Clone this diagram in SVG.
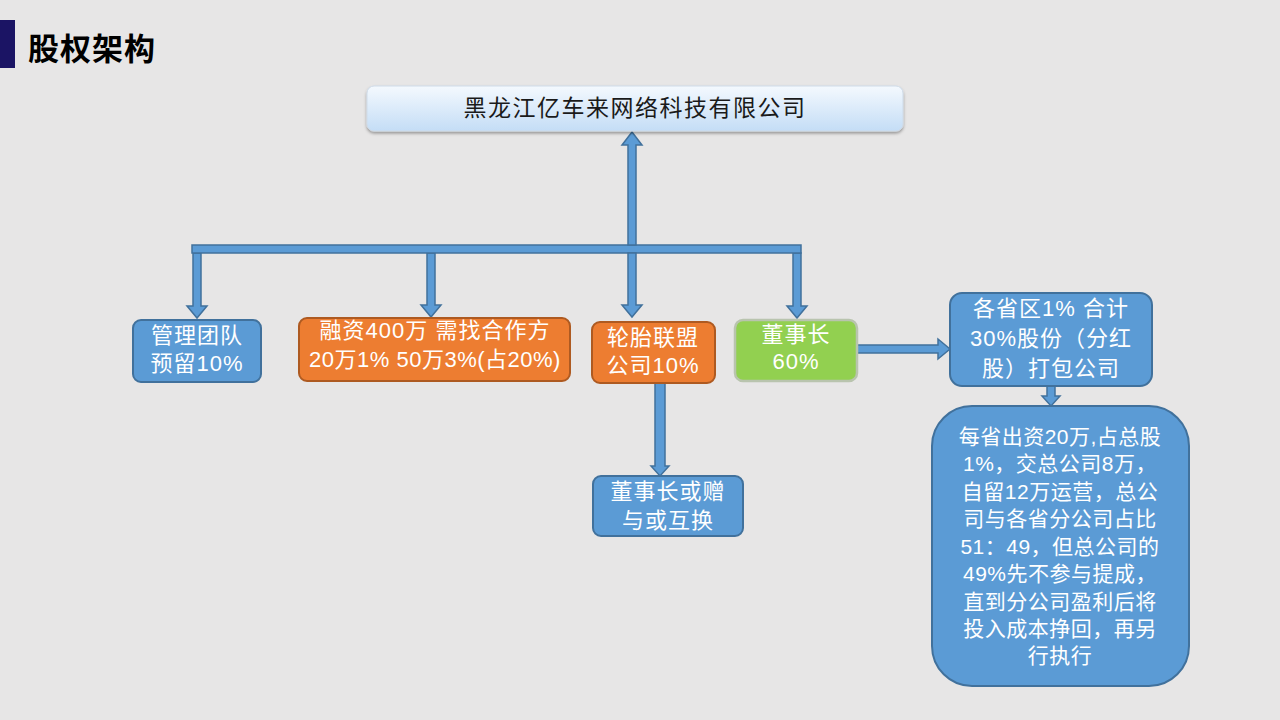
<svg xmlns="http://www.w3.org/2000/svg" width="1280" height="720" viewBox="0 0 1280 720">
<defs>
<linearGradient id="topg" x1="0" y1="0" x2="0" y2="1">
<stop offset="0" stop-color="#f4f9fe"/>
<stop offset="1" stop-color="#c4ddf6"/>
</linearGradient>
<filter id="sh" x="-5%" y="-20%" width="110%" height="150%">
<feDropShadow dx="0" dy="2" stdDeviation="1.5" flood-color="#000" flood-opacity="0.35"/>
</filter>
<style>
.t{font-family:"Liberation Sans","Noto Sans CJK SC",sans-serif;font-size:22px;fill:#ffffff;text-anchor:middle;letter-spacing:1px}
.b{font-size:21px;letter-spacing:0.5px}
.blue{fill:#5b9bd5;stroke:#41719c;stroke-width:2}
.orange{fill:#ed7d31;stroke:#ae5a21;stroke-width:2}
.green{fill:#92d050;stroke:#b9c4ae;stroke-width:2.5}
.arr{fill:#5b9bd5;stroke:#41719c;stroke-width:1.5;stroke-linejoin:miter}
</style>
</defs>
<rect width="1280" height="720" fill="#e7e6e6"/>
<g id="title">
<rect x="0" y="20" width="15" height="48" fill="#1b1464"/>
<text x="28" y="60" font-family="'Noto Sans CJK SC',sans-serif" font-size="31" font-weight="bold" fill="#000" letter-spacing="1">股权架构</text>
</g>
<g id="connectors">
<path class="arr" d="M193 253 V306 H187 L197 318 L207 306 H201 V253 Z"/>
<path class="arr" d="M427 253 V305 H421 L431 317 L441 305 H435 V253 Z"/>
<path class="arr" d="M793 253 V306 H787 L797 318 L807 306 H801 V253 Z"/>
<rect class="arr" x="192" y="245" width="609" height="8"/>
<path class="arr" d="M628 253 V305 H622 L632 317 L642 305 H636 V253 Z"/>
<path class="arr" d="M628 245 V145 H622 L632 132 L642 145 H636 V245 Z"/>
<path class="arr" d="M857 345 H938 V339 L950 349 L938 359 V353 H857 Z"/>
<path class="arr" d="M1047 386 V396 H1042 L1051 406 L1060 396 H1055 V386 Z"/>
<path class="arr" d="M655 383 V466 H651 L660 476 L669 466 H665 V383 Z"/>
</g>
<g id="top">
<rect x="367" y="86" width="536" height="45" rx="7" fill="url(#topg)" stroke="#cfdbe8" stroke-width="1" filter="url(#sh)"/>
<text class="t" x="635" y="116" style="fill:#1a1a1a;font-size:23px;letter-spacing:1.5px">黑龙江亿车来网络科技有限公司</text>
</g>
<g id="n1">
<rect class="blue" x="133" y="320" width="128" height="62" rx="8"/>
<text class="t" x="197" y="343">管理团队</text>
<text class="t" x="197" y="371">预留10%</text>
</g>
<g id="n2">
<rect class="orange" x="299" y="318" width="271" height="63" rx="8"/>
<text class="t" x="435" y="338">融资400万 需找合作方</text>
<text class="t" x="435" y="367" style="letter-spacing:0.5px">20万1% 50万3%(占20%)</text>
</g>
<g id="n3">
<rect class="orange" x="592" y="322" width="123" height="61" rx="8"/>
<text class="t" x="653" y="345">轮胎联盟</text>
<text class="t" x="653" y="373">公司10%</text>
</g>
<g id="n4">
<rect class="green" x="735" y="320" width="122" height="61" rx="8"/>
<text class="t" x="796" y="342">董事长</text>
<text class="t" x="796" y="369">60%</text>
</g>
<g id="n5">
<rect class="blue" x="950" y="293" width="202" height="93" rx="12"/>
<text class="t" x="1051" y="316">各省区1% 合计</text>
<text class="t" x="1051" y="346">30%股份（分红</text>
<text class="t" x="1051" y="376">股）打包公司</text>
</g>
<g id="n6">
<rect class="blue" x="932" y="406" width="257" height="280" rx="40"/>
<text class="t b" x="1060" y="444">每省出资20万,占总股</text>
<text class="t b" x="1060" y="471">1%，交总公司8万，</text>
<text class="t b" x="1060" y="499">自留12万运营，总公</text>
<text class="t b" x="1060" y="526">司与各省分公司占比</text>
<text class="t b" x="1060" y="554">51：49，但总公司的</text>
<text class="t b" x="1060" y="581">49%先不参与提成，</text>
<text class="t b" x="1060" y="609">直到分公司盈利后将</text>
<text class="t b" x="1060" y="636">投入成本挣回，再另</text>
<text class="t b" x="1060" y="663">行执行</text>
</g>
<g id="n7">
<rect class="blue" x="593" y="476" width="150" height="60" rx="8"/>
<text class="t" x="668" y="499">董事长或赠</text>
<text class="t" x="668" y="528">与或互换</text>
</g>
</svg>
